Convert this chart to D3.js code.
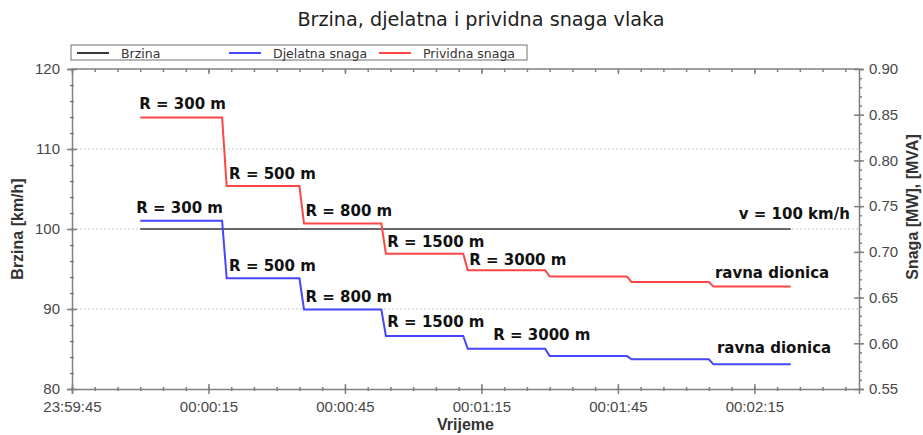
<!DOCTYPE html>
<html>
<head>
<meta charset="utf-8">
<script src="https://cdn.jsdelivr.net/npm/d3@7"></script>
<style>
  body { margin: 0; background: #fff; }
  .axis path, .axis line { stroke: #808080; stroke-width: 1.5; }
  .axis text { fill: #484848; font-family: "Liberation Sans", Arial, sans-serif; font-size: 15px; }
  .grid line { stroke: #c8c8c8; stroke-dasharray: 2,2; }
  .lbl { font-family: "DejaVu Sans", Verdana, sans-serif; font-weight: bold; font-size: 15px; fill: #111; }
  .atitle { font-family: "Liberation Sans", Arial, sans-serif; font-weight: bold; font-size: 16px; fill: #333; }
</style>
</head>
<body>
<svg width="923" height="435"></svg>
<script>
// time steps of the runs (segment starts, last one is end of line)
var segTimes = ['00:00:00', '00:00:18', '00:00:35', '00:00:53', '00:01:11', '00:01:29', '00:01:47', '00:02:05', '00:02:23'];
// apparent power [MVA] per segment
var prividna = [0.847, 0.772, 0.731, 0.698, 0.680, 0.673, 0.667, 0.662];
// active power [MW] per segment
var djelatna = [0.734, 0.671, 0.637, 0.608, 0.594, 0.586, 0.5825, 0.577];
// speed
var brzina = [100, 100];
var brzinaTimes = ['00:00:00', '00:02:23'];
// curve radius labels per segment
var radiusLabels = ['R = 300 m', 'R = 500 m', 'R = 800 m', 'R = 1500 m', 'R = 3000 m', '', '', 'ravna dionica'];
var leftTicks = [80, 90, 100, 110, 120];
var rightTicks = [0.55, 0.60, 0.65, 0.70, 0.75, 0.80, 0.85, 0.90];
var xTickSec = [0, 30, 60, 90, 120, 150];

var svg = d3.select('svg');
var padding = {t: 69, r: 64, b: 46, l: 72};
var W = +svg.attr('width'), H = +svg.attr('height');

var parse = d3.timeParse('%H:%M:%S');
function parseT(s) {
    var d = parse(s);
    if (d.getHours() < 12) d.setDate(d.getDate() + 1);
    return d;
}
var t0 = parseT('23:59:45');
var t1 = parseT('00:02:38');

var xScale = d3.scaleTime().domain([t0, t1]).range([padding.l, W - padding.r]);
var yLeft = d3.scaleLinear().domain([80, 120]).range([H - padding.b, padding.t]);
var yRight = d3.scaleLinear().domain([0.55, 0.90]).range([H - padding.b, padding.t]);
var x0 = padding.l, x1 = W - padding.r, yTop = padding.t, yBot = H - padding.b;

// gridlines
svg.append('g').attr('class', 'grid')
    .selectAll('line').data([90, 100, 110]).enter().append('line')
    .attr('x1', x0).attr('x2', x1)
    .attr('y1', function(d) { return yLeft(d); })
    .attr('y2', function(d) { return yLeft(d); });

// minor tick values
var minorX = d3.range(0, 174, 5).map(function(s) { return d3.timeSecond.offset(t0, s); });
var majorX = xTickSec.map(function(s) { return d3.timeSecond.offset(t0, s); });

// bottom axis
var bottomG = svg.append('g').attr('class', 'axis')
    .attr('transform', 'translate(' + [0, yBot] + ')')
    .call(d3.axisBottom(xScale).tickValues(majorX).tickSize(5).tickPadding(7)
        .tickFormat(d3.timeFormat('%H:%M:%S')));
bottomG.selectAll('.tick line').attr('y1', -5);
svg.append('g').attr('class', 'axis')
    .attr('transform', 'translate(' + [0, yBot] + ')')
    .call(d3.axisBottom(xScale).tickValues(minorX).tickSize(2).tickFormat(''))
    .call(function(g) { g.select('.domain').remove(); g.selectAll('.tick line').attr('y1', -2); });

// top axis (mirror)
var topG = svg.append('g').attr('class', 'axis')
    .attr('transform', 'translate(' + [0, yTop] + ')')
    .call(d3.axisBottom(xScale).tickValues(majorX).tickSize(5).tickFormat(''));
topG.select('.domain').attr('d', 'M' + x0 + ',0H' + x1);
svg.append('g').attr('class', 'axis')
    .attr('transform', 'translate(' + [0, yTop] + ')')
    .call(d3.axisBottom(xScale).tickValues(minorX).tickSize(3).tickFormat(''))
    .call(function(g) { g.select('.domain').remove(); });

// left axis
var leftG = svg.append('g').attr('class', 'axis')
    .attr('transform', 'translate(' + [x0, 0] + ')')
    .call(d3.axisLeft(yLeft).tickValues(leftTicks).tickSize(5).tickPadding(7).tickFormat(d3.format('d')));
leftG.selectAll('.tick line').attr('x1', 5);
svg.append('g').attr('class', 'axis')
    .attr('transform', 'translate(' + [x0, 0] + ')')
    .call(d3.axisLeft(yLeft).tickValues(d3.range(80, 121, 2)).tickSize(2).tickFormat(''))
    .call(function(g) { g.select('.domain').remove(); g.selectAll('.tick line').attr('x1', 2); });

// right axis
var rightG = svg.append('g').attr('class', 'axis')
    .attr('transform', 'translate(' + [x1, 0] + ')')
    .call(d3.axisRight(yRight).tickValues(rightTicks).tickSize(5).tickPadding(5).tickFormat(d3.format('.2f')));
rightG.selectAll('.tick line').attr('x1', -5);
svg.append('g').attr('class', 'axis')
    .attr('transform', 'translate(' + [x1, 0] + ')')
    .call(d3.axisRight(yRight).tickValues(d3.range(55, 91, 1).map(function(v) { return v / 100; })).tickSize(3).tickFormat(''))
    .call(function(g) { g.select('.domain').remove(); });

// build stepped line points (1 s transition between segments)
function stepPoints(values) {
    var pts = [];
    values.forEach(function(v, i) {
        var start = parseT(segTimes[i]);
        if (i > 0) start = d3.timeSecond.offset(start, 1);
        pts.push([start, v]);
        pts.push([parseT(segTimes[i + 1]), v]);
    });
    return pts;
}

var lineR = d3.line().x(function(d) { return xScale(d[0]); }).y(function(d) { return yRight(d[1]); });
var lineL = d3.line().x(function(d) { return xScale(d[0]); }).y(function(d) { return yLeft(d[1]); });

svg.append('path')
    .datum(brzinaTimes.map(function(t, i) { return [parseT(t), brzina[i]]; }))
    .attr('d', lineL).attr('fill', 'none').attr('stroke', '#3a3a3a').attr('stroke-width', 1.6);
svg.append('path')
    .datum(stepPoints(djelatna))
    .attr('d', lineR).attr('fill', 'none').attr('stroke', '#4646ff').attr('stroke-width', 2);
svg.append('path')
    .datum(stepPoints(prividna))
    .attr('d', lineR).attr('fill', 'none').attr('stroke', '#ff4646').attr('stroke-width', 2);

// labels over segments
var redDx = [-1, 7, 6, 6, 6, 0, 0, 6], redDy = [-8, -7, -8, -7, -5, 0, 0, -9];
var blueDx = [-4, 7, 6, 6, 30, 0, 0, 8], blueDy = [-8, -7, -7, -9, -9, 0, 0, -11];
function addLabels(values, dxs, dys) {
    svg.append('g').selectAll('text')
        .data(values.map(function(v, i) { return {v: v, i: i}; }).filter(function(d) { return radiusLabels[d.i]; }))
        .enter().append('text')
        .attr('class', 'lbl')
        .attr('x', function(d) { return xScale(parseT(segTimes[d.i])) + dxs[d.i]; })
        .attr('y', function(d) { return yRight(d.v) + dys[d.i]; })
        .text(function(d) { return radiusLabels[d.i]; });
}
addLabels(prividna, redDx, redDy);
addLabels(djelatna, blueDx, blueDy);

svg.append('text').attr('class', 'lbl')
    .attr('x', xScale(parseT(brzinaTimes[1])) - 52)
    .attr('y', yLeft(brzina[1]) - 10)
    .text('v = 100 km/h');

// titles
svg.append('text')
    .attr('x', 481).attr('y', 26)
    .attr('text-anchor', 'middle')
    .style('font-family', '"DejaVu Sans", Verdana, sans-serif')
    .style('font-size', '19.2px').style('fill', '#222')
    .text('Brzina, djelatna i prividna snaga vlaka');
svg.append('text').attr('class', 'atitle')
    .attr('transform', 'translate(' + [23, (yTop + yBot) / 2] + ') rotate(-90)')
    .attr('text-anchor', 'middle')
    .text('Brzina [km/h]');
svg.append('text').attr('class', 'atitle')
    .attr('transform', 'translate(' + [918, 207] + ') rotate(-90)')
    .attr('text-anchor', 'middle')
    .text('Snaga [MW], [MVA]');
svg.append('text').attr('class', 'atitle')
    .attr('x', (x0 + x1) / 2).attr('y', 430)
    .attr('text-anchor', 'middle')
    .text('Vrijeme');

// legend
var legend = [
    {name: 'Brzina', color: '#3a3a3a', x: 77},
    {name: 'Djelatna snaga', color: '#4646ff', x: 229},
    {name: 'Prividna snaga', color: '#ff4646', x: 379}
];
var legendG = svg.append('g');
legendG.append('rect')
    .attr('x', 71).attr('y', 45).attr('width', 456).attr('height', 15)
    .attr('fill', '#fff').attr('stroke', '#707070');
var items = legendG.selectAll('.leg').data(legend).enter().append('g').attr('class', 'leg');
items.append('line')
    .attr('x1', function(d) { return d.x; }).attr('x2', function(d) { return d.x + 32; })
    .attr('y1', 53).attr('y2', 53)
    .attr('stroke', function(d) { return d.color; }).attr('stroke-width', 2);
items.append('text')
    .attr('x', function(d) { return d.x + 44; }).attr('y', 57.5)
    .style('font-family', '"DejaVu Sans", Verdana, sans-serif')
    .style('font-size', '12.5px').style('fill', '#333')
    .text(function(d) { return d.name; });
</script>
</body>
</html>
